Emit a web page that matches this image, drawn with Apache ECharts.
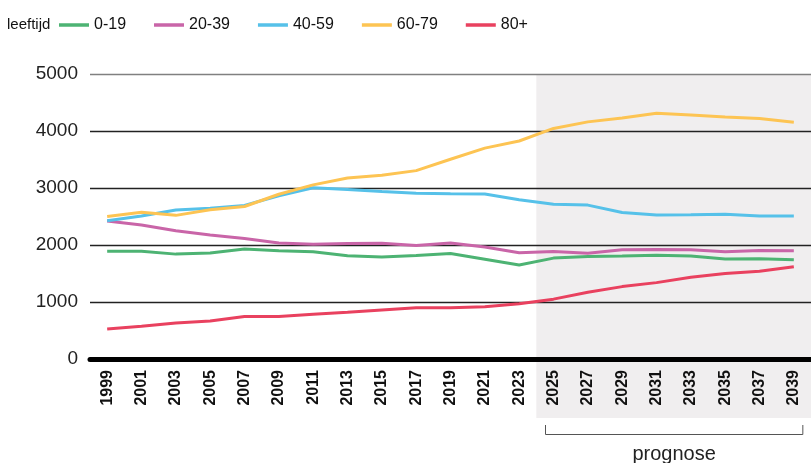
<!DOCTYPE html>
<html>
<head>
<meta charset="utf-8">
<script src="https://cdn.jsdelivr.net/npm/echarts@6/dist/echarts.min.js"></script>
<style>
html, body { margin: 0; padding: 0; background: #fff; }
#board { width: 811px; height: 463px; }
</style>
</head>
<body>
<div id="board"></div>
<script>
// jaren (elke 2 jaar), vanaf 2025 prognose
const years = ["1999", "2001", "2003", "2005", "2007", "2009", "2011", "2013", "2015", "2017", "2019",
  "2021", "2023", "2025", "2027", "2029", "2031", "2033", "2035", "2037", "2039"];
const yTicks = [0, 1000, 2000, 3000, 4000, 5000];
const firstForecast = "2025";
const lastHistoric = "2023";

const age0_19 = [1890, 1890, 1840, 1860, 1930, 1900, 1880, 1810, 1790, 1815, 1850,
  1750, 1650, 1770, 1800, 1805, 1820, 1805, 1755, 1760, 1740];
const age20_39 = [2420, 2350, 2250, 2175, 2115, 2035, 2015, 2025, 2030, 1990, 2035,
  1965, 1865, 1885, 1855, 1915, 1920, 1915, 1880, 1905, 1900];
const age40_59 = [2425, 2510, 2615, 2645, 2695, 2865, 3005, 2975, 2940, 2910, 2900,
  2895, 2795, 2715, 2700, 2570, 2525, 2530, 2540, 2510, 2510];
const age60_79 = [2500, 2575, 2520, 2620, 2675, 2890, 3055, 3175, 3225, 3305, 3505,
  3700, 3825, 4045, 4160, 4230, 4310, 4280, 4245, 4220, 4155];
const age80plus = [525, 575, 630, 665, 745, 745, 785, 820, 860, 900, 900,
  915, 970, 1050, 1170, 1270, 1340, 1435, 1500, 1540, 1620];

const names = ["0-19", "20-39", "40-59", "60-79", "80+"];
const colors = ["#4db373", "#c965a8", "#56c1e9", "#fdc453", "#e9415f"];
const values = [age0_19, age20_39, age40_59, age60_79, age80plus];

const sans = "'Liberation Sans', sans-serif";

var options = {
  animation: false,
  title: {
    text: "leeftijd",
    left: 7,
    top: 17,
    padding: 0,
    textStyle: { fontSize: 15, fontWeight: "normal", fontFamily: sans, color: "#111" }
  },
  legend: {
    data: names,
    left: 59,
    top: 17,
    padding: 0,
    icon: "rect",
    itemWidth: 30,
    itemHeight: 3.5,
    itemGap: 28,
    selectedMode: false,
    textStyle: { fontSize: 16, fontFamily: sans, color: "#111" }
  },
  grid: { left: 90, right: 0, top: 74, bottom: 104 },
  xAxis: {
    type: "category",
    data: years,
    boundaryGap: true,
    axisLine: { lineStyle: { color: "#000", width: 5 } },
    axisTick: { show: false },
    axisLabel: {
      rotate: 90,
      margin: 11,
      fontSize: 16,
      fontWeight: "bold",
      fontFamily: sans,
      color: "#111"
    }
  },
  yAxis: {
    type: "value",
    min: yTicks[0],
    max: yTicks[yTicks.length - 1],
    interval: 1000,
    axisLine: { show: false },
    axisTick: { show: false },
    axisLabel: {
      margin: 12,
      fontSize: 19,
      fontFamily: sans,
      color: "#222",
      formatter: function (v) { return String(v); }
    },
    splitLine: { lineStyle: { color: ["#222", "#222", "#222", "#222", "#222", "#808080"], width: 1.3 } }
  },
  series: names.map(function (n, i) {
    return {
      name: n,
      type: "line",
      data: values[i],
      showSymbol: false,
      color: colors[i],
      lineStyle: { width: 3, color: colors[i] },
      emphasis: { disabled: true }
    };
  })
};

var myChart = echarts.init(document.getElementById("board"));
myChart.setOption(options);

// grijze prognose-achtergrond en accolade
var xa = myChart.convertToPixel({ xAxisIndex: 0 }, lastHistoric);
var xb = myChart.convertToPixel({ xAxisIndex: 0 }, firstForecast);
var xe = myChart.convertToPixel({ xAxisIndex: 0 }, years[years.length - 1]);
var yTop = myChart.convertToPixel({ yAxisIndex: 0 }, yTicks[yTicks.length - 1]);
var shadeLeft = (xa + xb) / 2;
var bl = xb - 8, br = xe + 9;

myChart.setOption({
  graphic: [
    {
      type: "rect",
      z: -1,
      silent: true,
      shape: { x: shadeLeft, y: yTop, width: 811 - shadeLeft, height: 418 - yTop },
      style: { fill: "#f0eeef" }
    },
    {
      type: "polyline",
      silent: true,
      shape: { points: [[bl, 425], [bl, 434.5], [br, 434.5], [br, 425]] },
      style: { stroke: "#555", lineWidth: 1, fill: null }
    },
    {
      type: "text",
      silent: true,
      x: (bl + br) / 2,
      y: 454,
      style: {
        text: "prognose",
        fontSize: 20,
        fontFamily: sans,
        fill: "#222",
        align: "center",
        verticalAlign: "middle"
      }
    }
  ]
});
</script>
</body>
</html>
